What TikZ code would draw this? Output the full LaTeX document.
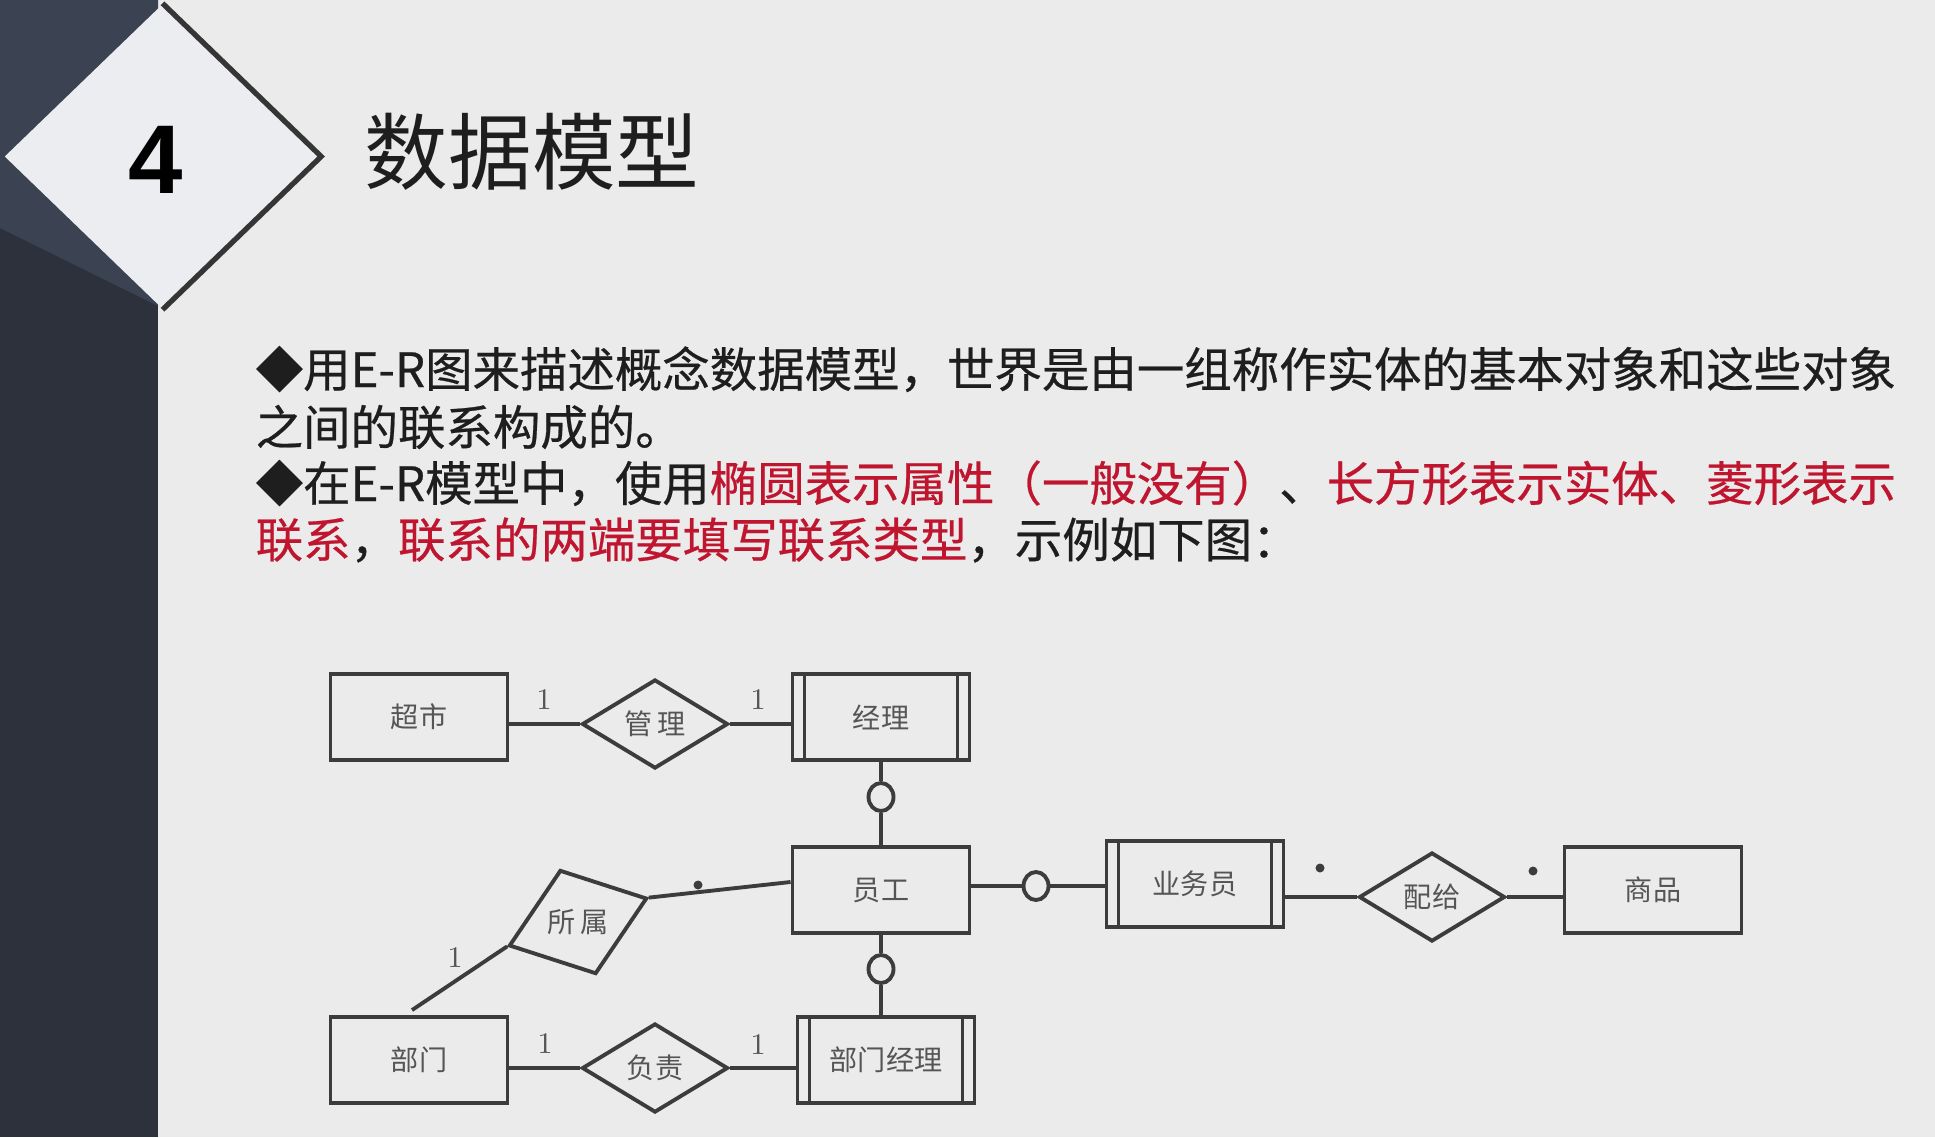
\documentclass[tikz,border=0pt]{standalone}
\usepackage{fontspec}
\usepackage{graphicx}
\newfontfamily\cjk{Noto Sans CJK SC}
\newfontfamily\cjkbody{Noto Sans CJK SC}[FakeBold=0.5]
\newfontfamily\headfont{Liberation Sans}
\usetikzlibrary{shapes.geometric}
\definecolor{slidebg}{HTML}{EBEBEB}
\definecolor{sidetop}{HTML}{3B4353}
\definecolor{sidelow}{HTML}{2D313C}
\definecolor{badgefill}{HTML}{ECEDF0}
\definecolor{badgeline}{HTML}{353535}
\definecolor{bodytext}{HTML}{1E1E1E}
\definecolor{hl}{HTML}{C0152F}
\definecolor{erline}{HTML}{3C3C3C}
\definecolor{boxtext}{HTML}{555555}

\begin{document}
\begin{tikzpicture}[
   x=1cm,y=1cm,
   entity/.style={draw=erline,line width=1.1pt,minimum width=1.77cm,minimum height=0.86cm,inner sep=0pt,text=boxtext,font=\cjk\fontsize{8pt}{9pt}\selectfont},
   dblentity/.style={entity,path picture={
      \draw[erline,line width=1pt] ([xshift=0.12cm]path picture bounding box.north west) -- ([xshift=0.12cm]path picture bounding box.south west)
        ([xshift=-0.12cm]path picture bounding box.north east) -- ([xshift=-0.12cm]path picture bounding box.south east);}},
   rel/.style={diamond,draw=erline,line width=1.1pt,minimum width=1.46cm,minimum height=0.89cm,inner sep=0pt,text=boxtext,font=\cjk\fontsize{8pt}{9pt}\selectfont},
   opt/.style={ellipse,draw=erline,line width=1.1pt,minimum width=0.25cm,minimum height=0.28cm,inner sep=0pt},
   conn/.style={draw=erline,line width=1.1pt},
   card/.style={inner sep=0pt,text=boxtext,font=\fontsize{8.5pt}{9pt}\selectfont},
   many/.style={circle,fill=erline,inner sep=0pt,minimum size=0.09cm},
   body/.style={anchor=west,inner sep=0pt,text=bodytext,font=\cjkbody\fontsize{13.5pt}{16pt}\selectfont}
 ]
  \useasboundingbox (0,0) rectangle (19.35,-11.37);
  \fill[slidebg] (0,0) rectangle (19.35,-11.37);

  \fill[sidelow] (0,0) rectangle (1.58,-11.37);
  \fill[sidetop] (0,0) -- (1.58,0) -- (1.58,-3.06) -- (0,-2.28) -- cycle;
  \node[diamond,fill=badgefill,minimum width=3.16cm,minimum height=3.05cm,inner sep=0pt] (badge) at (1.625,-1.565) {};
  \draw[badgeline,line width=1.5pt] (badge.north) -- (badge.east) -- (badge.south);
  \node[inner sep=0pt,text=black,font=\headfont\bfseries\fontsize{27.8pt}{30pt}\selectfont] (num) at (1.56,-1.60) {4};
  \node[anchor=west,inner sep=0pt,text=bodytext,font=\cjk\fontsize{23.8pt}{28pt}\selectfont] (title) at (3.64,-1.52) {数据模型};

  \node[body] (l1) at (2.55,-3.69) {◆用E-R图来描述概念数据模型，世界是由一组称作实体的基本对象和这些对象};
  \node[body] (l2) at (2.55,-4.27) {之间的联系构成的。};
  \node[body] (l3) at (2.55,-4.83) {◆在E-R模型中，使用\textcolor{hl}{椭圆表示属性（一般没有）}、\textcolor{hl}{长方形表示实体、菱形表示}};
  \node[body] (l4) at (2.55,-5.40) {\textcolor{hl}{联系}，\textcolor{hl}{联系的两端要填写联系类型}，示例如下图：};

  \node[entity] (chaoshi) at (4.19,-7.17) {超市};
  \node[rel] (guanli) at (6.55,-7.24) {管\,理};
  \node[dblentity] (jingli) at (8.81,-7.17) {经理};
  \node[opt] (o1) at (8.81,-7.97) {};
  \node[entity] (yuangong) at (8.81,-8.90) {员工};
  \node[opt] (o2) at (8.81,-9.69) {};
  \node[dblentity] (bmjl) at (8.86,-10.60) {部门经理};
  \node[entity] (bumen) at (4.19,-10.60) {部门};
  \node[rel] (fuze) at (6.55,-10.68) {负责};
  \node[rel,rotate=19] (suoshu) at (5.78,-9.22) {\rotatebox{-19}{所\,属}};
  \node[opt] (o3) at (10.36,-8.86) {};
  \node[dblentity] (yewu) at (11.95,-8.84) {业务员};
  \node[rel] (peigei) at (14.32,-8.97) {配给};
  \node[entity] (shangpin) at (16.53,-8.90) {商品};

  \draw[conn] (guanli.west) -- (guanli.west -| chaoshi.east);
  \draw[conn] (guanli.east) -- (guanli.east -| jingli.west);
  \draw[conn] (jingli.south) -- (o1.north) (o1.south) -- (yuangong.north);
  \draw[conn] (yuangong.south) -- (o2.north) (o2.south) -- (o2.south |- bmjl.north);
  \draw[conn] (fuze.west) -- (fuze.west -| bumen.east);
  \draw[conn] (fuze.east) -- (fuze.east -| bmjl.west);
  \draw[conn] (suoshu.east) -- ([yshift=0.08cm]yuangong.west);
  \draw[conn] (suoshu.west) -- ([xshift=-0.07cm,yshift=0.05cm]bumen.north);
  \draw[conn] (o3.west) -- (o3.west -| yuangong.east) (o3.east) -- (o3.east -| yewu.west);
  \draw[conn] (peigei.west) -- (peigei.west -| yewu.east);
  \draw[conn] (peigei.east) -- (peigei.east -| shangpin.west);

  \node[card] (k1) at (5.44,-7.00) {1};
  \node[card] (k2) at (7.58,-7.00) {1};
  \node[card] (k3) at (5.45,-10.44) {1};
  \node[card] (k4) at (7.58,-10.45) {1};
  \node[card] (k5) at (4.55,-9.58) {1};
  \node[many] (m1) at (6.98,-8.85) {};
  \node[many] (m2) at (13.20,-8.68) {};
  \node[many] (m3) at (15.33,-8.71) {};
 \end{tikzpicture}
\end{document}
